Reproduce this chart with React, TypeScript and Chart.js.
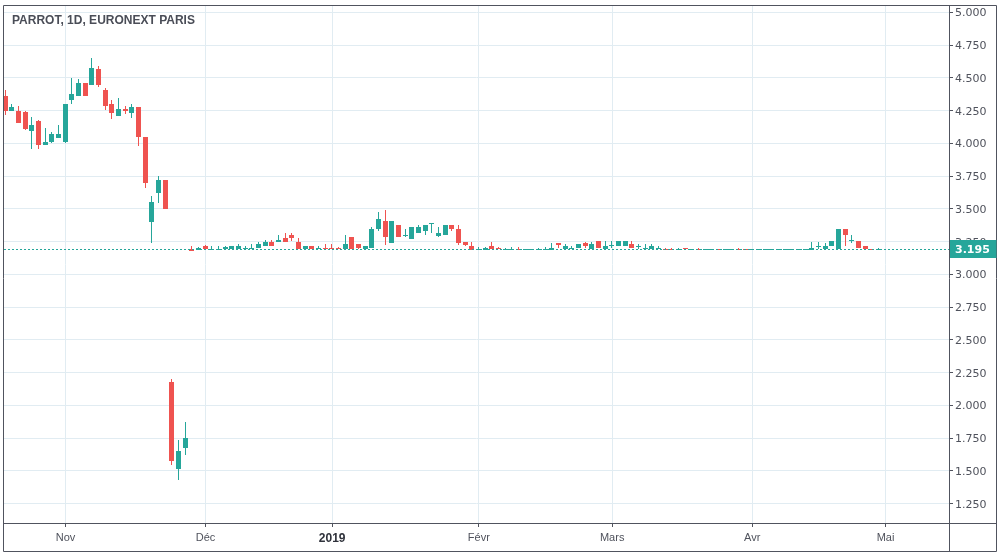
import React, { useEffect, useRef } from 'react';
import { Chart, registerables } from 'chart.js';
Chart.register(...registerables);

// Daily candles, PARROT (Euronext Paris), late Oct 2018 -> end of Apr 2019, one entry per trading day
const opens = [
  4.36, 4.25, 4.25, 4.24, 4.095, 4.175, 3.99, 4.01, 4.045, 4.01,
  4.33, 4.36, 4.465, 4.445, 4.565, 4.41, 4.305, 4.21, 4.265, 4.23,
  4.28, 4.05, 3.40, 3.62, 3.725, 2.18, 1.515, 1.675, 3.195, 3.185,
  3.215, 3.195, 3.195, 3.195, 3.195, 3.197, 3.197, 3.197, 3.205, 3.22,
  3.245, 3.25, 3.275, 3.30, 3.25, 3.198, 3.215, 3.196, 3.206, 3.206,
  3.20, 3.196, 3.29, 3.23, 3.196, 3.205, 3.345, 3.405, 3.24, 3.38,
  3.292, 3.27, 3.32, 3.335, 3.385, 3.292, 3.30, 3.375, 3.35, 3.25,
  3.215, 3.186, 3.186, 3.214, 3.20, 3.195, 3.193, 3.197, 3.186, 3.186,
  3.186, 3.186, 3.19, 3.24, 3.196, 3.196, 3.206, 3.237, 3.196, 3.252,
  3.196, 3.221, 3.214, 3.221, 3.229, 3.212, 3.196, 3.196, 3.196, 3.198,
  3.198, 3.188, 3.206, 3.188, 3.198, 3.186, 3.186, 3.196, 3.188, 3.19,
  3.196, 3.196, 3.186, 3.186, 3.186, 3.186, 3.19, 3.186, 3.186, 3.186,
  3.19, 3.186, 3.214, 3.196, 3.214, 3.196, 3.344, 3.26, 3.252, 3.214,
  3.197, 3.194,
];
const highs = [
  4.405, 4.30, 4.29, 4.25, 4.205, 4.18, 4.115, 4.085, 4.145, 4.305,
  4.50, 4.49, 4.465, 4.655, 4.595, 4.42, 4.335, 4.35, 4.29, 4.305,
  4.28, 4.05, 3.60, 3.75, 3.725, 2.20, 1.735, 1.875, 3.215, 3.21,
  3.225, 3.215, 3.215, 3.215, 3.215, 3.23, 3.22, 3.23, 3.25, 3.26,
  3.265, 3.305, 3.32, 3.32, 3.28, 3.22, 3.22, 3.22, 3.23, 3.23,
  3.21, 3.305, 3.29, 3.23, 3.214, 3.36, 3.48, 3.49, 3.405, 3.38,
  3.345, 3.36, 3.38, 3.375, 3.39, 3.36, 3.375, 3.375, 3.375, 3.25,
  3.245, 3.21, 3.21, 3.245, 3.21, 3.20, 3.21, 3.21, 3.197, 3.197,
  3.205, 3.21, 3.237, 3.24, 3.23, 3.22, 3.229, 3.245, 3.245, 3.252,
  3.252, 3.252, 3.252, 3.252, 3.252, 3.229, 3.229, 3.229, 3.221, 3.206,
  3.206, 3.206, 3.206, 3.198, 3.206, 3.196, 3.196, 3.196, 3.196, 3.195,
  3.206, 3.196, 3.196, 3.196, 3.196, 3.196, 3.195, 3.196, 3.196, 3.196,
  3.195, 3.245, 3.245, 3.237, 3.252, 3.344, 3.344, 3.298, 3.252, 3.214,
  3.197, 3.205,
];
const lows = [
  4.216, 4.25, 4.16, 4.10, 3.96, 3.96, 3.99, 4.00, 4.045, 4.005,
  4.305, 4.36, 4.36, 4.445, 4.435, 4.255, 4.185, 4.21, 4.225, 4.195,
  3.98, 3.66, 3.24, 3.545, 3.50, 1.545, 1.43, 1.62, 3.18, 3.185,
  3.195, 3.195, 3.195, 3.195, 3.195, 3.195, 3.197, 3.197, 3.205, 3.22,
  3.215, 3.25, 3.245, 3.255, 3.195, 3.195, 3.197, 3.196, 3.196, 3.196,
  3.195, 3.195, 3.195, 3.198, 3.196, 3.205, 3.33, 3.225, 3.24, 3.285,
  3.29, 3.27, 3.32, 3.30, 3.32, 3.29, 3.30, 3.33, 3.225, 3.215,
  3.185, 3.185, 3.186, 3.196, 3.195, 3.195, 3.19, 3.186, 3.186, 3.186,
  3.186, 3.186, 3.19, 3.20, 3.196, 3.196, 3.206, 3.206, 3.196, 3.206,
  3.196, 3.206, 3.214, 3.221, 3.206, 3.198, 3.196, 3.196, 3.196, 3.188,
  3.188, 3.188, 3.188, 3.188, 3.188, 3.186, 3.186, 3.186, 3.188, 3.19,
  3.186, 3.186, 3.186, 3.186, 3.186, 3.186, 3.19, 3.186, 3.186, 3.186,
  3.19, 3.186, 3.196, 3.196, 3.214, 3.196, 3.214, 3.237, 3.206, 3.196,
  3.195, 3.194,
];
const closes = [
  4.25, 4.28, 4.16, 4.11, 4.145, 3.99, 4.015, 4.075, 4.075, 4.30,
  4.375, 4.465, 4.36, 4.58, 4.445, 4.285, 4.23, 4.265, 4.245, 4.28,
  4.05, 3.70, 3.55, 3.725, 3.50, 1.575, 1.65, 1.75, 3.18, 3.20,
  3.195, 3.198, 3.198, 3.21, 3.215, 3.215, 3.205, 3.205, 3.23, 3.245,
  3.215, 3.265, 3.245, 3.28, 3.195, 3.22, 3.197, 3.206, 3.196, 3.196,
  3.195, 3.23, 3.198, 3.20, 3.214, 3.35, 3.42, 3.285, 3.405, 3.29,
  3.305, 3.36, 3.365, 3.375, 3.39, 3.32, 3.375, 3.345, 3.24, 3.225,
  3.185, 3.198, 3.206, 3.196, 3.195, 3.198, 3.197, 3.186, 3.197, 3.197,
  3.193, 3.197, 3.206, 3.224, 3.214, 3.206, 3.229, 3.214, 3.229, 3.206,
  3.221, 3.223, 3.252, 3.252, 3.206, 3.214, 3.199, 3.214, 3.199, 3.188,
  3.188, 3.198, 3.196, 3.198, 3.188, 3.196, 3.196, 3.186, 3.196, 3.195,
  3.186, 3.186, 3.196, 3.196, 3.196, 3.196, 3.195, 3.196, 3.196, 3.196,
  3.195, 3.206, 3.221, 3.221, 3.252, 3.344, 3.298, 3.262, 3.206, 3.196,
  3.195, 3.195,
];

// Month boundaries (index of first trading day of each month) and their labels
const monthTickIndex = [9, 30, 49, 71, 91, 112, 132];
const monthTickLabels = ['Nov', 'Déc', '2019', 'Févr', 'Mars', 'Avr', 'Mai'];
const priceTicks = [1.25, 1.5, 1.75, 2.0, 2.25, 2.5, 2.75, 3.0, 3.25, 3.5, 3.75, 4.0, 4.25, 4.5, 4.75, 5.0];
const lastPrice = 3.195;
const chartTitle = 'PARROT, 1D, EURONEXT PARIS';

const UP = '#26a69a';
const DOWN = '#ef5350';
const GRID = '#e1ecf2';
const FRAME = '#50535e';
const TEXT = '#4f525c';
const FONT = "'Liberation Sans', Arial, sans-serif";
const AXIS_FONT = "'DejaVu Sans', Verdana, sans-serif";

export default function App() {
  const ref = useRef<HTMLCanvasElement>(null);

  useEffect(() => {
    document.body.style.margin = '0';
    const canvas = ref.current;
    if (!canvas) return;
    const idx = opens.map((_, i) => i);
    const colors = idx.map((i) => (closes[i] >= opens[i] ? UP : DOWN));
    const bodies = idx.map((i) => ({ x: i, y: [Math.min(opens[i], closes[i]), Math.max(opens[i], closes[i])] }));
    const wicks = idx.map((i) => ({ x: i, y: [lows[i], highs[i]] }));

    const snap = {
      id: 'snap',
      afterDatasetsUpdate(chart: any) {
        chart.data.datasets.forEach((_: any, di: number) => {
          const meta = chart.getDatasetMeta(di);
          meta.data.forEach((el: any) => {
            el.x = Math.floor(el.x - 0.5 + 1e-6) + 0.5;
            const top = Math.round(Math.min(el.y, el.base));
            let bot = Math.round(Math.max(el.y, el.base));
            if (bot - top < 1) bot = top + 1;
            el.y = top;
            el.base = bot;
          });
        });
      },
    };

    const decor = {
      id: 'decor',
      afterDatasetsDraw(chart: any) {
        const { ctx, chartArea } = chart;
        const y = Math.round(chart.scales.y.getPixelForValue(lastPrice)) + 0.5;
        ctx.save();
        ctx.strokeStyle = UP;
        ctx.lineWidth = 1;
        ctx.setLineDash([2, 2]);
        ctx.beginPath();
        ctx.moveTo(chartArea.left, y);
        ctx.lineTo(chartArea.right, y);
        ctx.stroke();
        ctx.restore();
      },
      afterDraw(chart: any) {
        const { ctx, chartArea } = chart;
        const W = chart.width;
        const H = chart.height;
        ctx.save();
        // frame
        ctx.strokeStyle = FRAME;
        ctx.lineWidth = 1;
        ctx.beginPath();
        const l = chartArea.left - 0.5;
        const t = chartArea.top - 0.5;
        const r = W - 4.5;
        const b = H - 4.5;
        ctx.rect(l, t, r - l, b - t);
        ctx.moveTo(chartArea.right + 0.5, t);
        ctx.lineTo(chartArea.right + 0.5, b);
        ctx.moveTo(l, chartArea.bottom + 0.5);
        ctx.lineTo(r, chartArea.bottom + 0.5);
        ctx.stroke();
        // title
        ctx.fillStyle = '#4a4d57';
        ctx.font = `bold 12px ${FONT}`;
        ctx.textBaseline = 'middle';
        ctx.textAlign = 'left';
        ctx.fillText(chartTitle, chartArea.left + 8, chartArea.top + 15);
        // last price label
        const py = Math.round(chart.scales.y.getPixelForValue(lastPrice));
        ctx.fillStyle = UP;
        ctx.fillRect(chartArea.right + 1, py - 9, r - chartArea.right - 1, 18);
        ctx.fillStyle = '#ffffff';
        ctx.font = `bold 11px ${AXIS_FONT}`;
        ctx.fillText(lastPrice.toFixed(3), chartArea.right + 6, py + 1);
        ctx.restore();
      },
    };

    const chart = new Chart(canvas, {
      type: 'bar',
      data: {
        datasets: [
          {
            data: bodies as any,
            backgroundColor: colors,
            barThickness: 5,
            grouped: false,
            borderWidth: 0,
            inflateAmount: 0,
          } as any,
          {
            data: wicks as any,
            backgroundColor: colors,
            barThickness: 1,
            grouped: false,
            borderWidth: 0,
            inflateAmount: 0,
          } as any,
        ],
      },
      options: {
        responsive: false,
        animation: false,
        devicePixelRatio: 1,
        events: [],
        layout: { padding: { left: 4, top: 6, right: 4, bottom: 4 } },
        plugins: { legend: { display: false }, tooltip: { enabled: false }, title: { display: false } },
        scales: {
          x: {
            type: 'linear',
            offset: false,
            min: -0.225,
            max: 141.525,
            afterBuildTicks: (s: any) => {
              s.ticks = monthTickIndex.map((v) => ({ value: v }));
            },
            afterFit: (s: any) => {
              s.height = 29;
              s.paddingLeft = 0;
              s.paddingRight = 0;
            },
            grid: { color: GRID, tickColor: FRAME, tickLength: 4, drawTicks: true, offset: false },
            border: { display: false },
            ticks: {
              autoSkip: false,
              maxRotation: 0,
              padding: 4,
              callback: (_v: any, i: number) => monthTickLabels[i],
              color: (c: any) => (monthTickLabels[c.index] === '2019' ? '#2f323b' : TEXT),
              font: (c: any) => ({
                family: FONT,
                size: monthTickLabels[c.index] === '2019' ? 12 : 11,
                weight: monthTickLabels[c.index] === '2019' ? 'bold' : 'normal',
              }),
            },
          } as any,
          y: {
            type: 'linear',
            position: 'right',
            min: 1.103,
            max: 5.0496,
            afterBuildTicks: (s: any) => {
              s.ticks = priceTicks.map((v) => ({ value: v }));
            },
            afterFit: (s: any) => {
              s.width = 48;
              s.paddingTop = 0;
              s.paddingBottom = 0;
            },
            grid: { color: GRID, tickColor: FRAME, tickLength: 4, drawTicks: true },
            border: { display: false },
            ticks: {
              autoSkip: false,
              padding: 2,
              labelOffset: 1,
              color: TEXT,
              font: { family: AXIS_FONT, size: 11 },
              callback: (v: any) => Number(v).toFixed(3),
            },
          } as any,
        },
      },
      plugins: [snap, decor],
    });
    return () => chart.destroy();
  }, []);

  return (
    <div style={{ width: 1001, height: 556 }}>
      <canvas ref={ref} width={1001} height={556} style={{ display: 'block' }} />
    </div>
  );
}
